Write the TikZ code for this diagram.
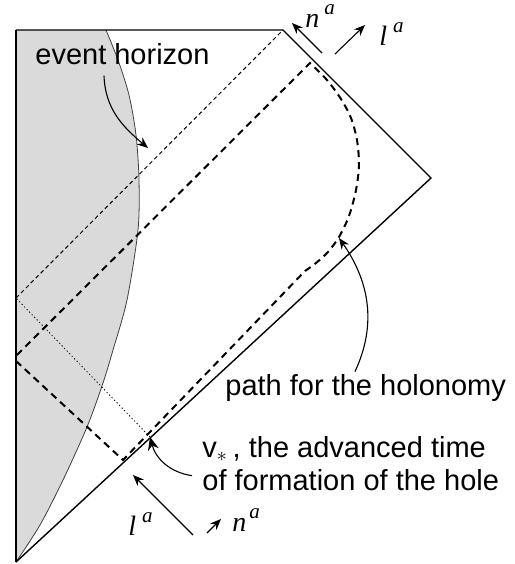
\documentclass[tikz,border=0pt]{standalone}
\usepackage{fontspec}
\setmainfont{Liberation Sans}
\newfontfamily\vecfont{Liberation Serif}
\usepackage{tikz}
\usetikzlibrary{arrows.meta, positioning}
\definecolor{trapped}{RGB}{218,218,218}
\newcommand{\nullvec}[3]{{\vecfont\itshape #1\hspace{#2}\raisebox{6.5pt}{\fontsize{10.5}{10.5}\selectfont #3}}}

\tikzset{
  txt/.style={font=\fontsize{14.5}{16.5}\selectfont, inner sep=0pt, anchor=base west},
  vec/.style={font=\fontsize{14}{14}\selectfont, inner sep=0pt, anchor=base west},
  pointer/.style={-{Stealth[length=5.5pt,width=4.5pt]}, line width=0.55pt},
  holonomy/.style={line width=1pt, dash pattern=on 3.5pt off 2.5pt},
  horizon/.style={line width=0.5pt, dash pattern=on 2pt off 1.5pt},
}

\begin{document}
\begin{tikzpicture}[x=0.5pt, y=-0.5pt]
  \useasboundingbox (0,0) rectangle (515,564);
  % corners of the diagram
  \coordinate (bottom) at (16,562);
  \coordinate (topleft) at (16,30);
  \coordinate (topright) at (283,30);
  \coordinate (spatial) at (431,178);
  \coordinate (rzero) at (16,298);
  \coordinate (vstar) at (150,437);
  \coordinate (holtip) at (339,238);
  \coordinate (ehtip) at (148,148);

  % trapped region
  \fill[trapped] (topleft) -- plot[smooth] coordinates {(106,30) (118,60) (129,95) (136,135) (139,180) (138,230) (127,300) (113,350) (103,383) (87,427) (63,480) (40,525) (16,562)} -- cycle;
  \draw[line width=0.4pt, black!75] plot[smooth] coordinates {(106,30) (118,60) (129,95) (136,135) (139,180) (138,230) (127,300) (113,350) (103,383) (87,427) (63,480) (40,525) (16,562)};

  % event horizon
  \draw[horizon] (rzero) -- (topright);
  \draw[line width=0.4pt, dash pattern=on 0.6pt off 1.2pt] (vstar) -- (rzero);

  % path for the holonomy
  \draw[holonomy] (16,361) -- (123,460) -- plot[smooth] coordinates {(305,271) (316,263) (328,252) (339,237) (349,216) (356,190) (359,165) (357,140) (351,118) (341,99) (327,80) (310,63)} -- (16,356);

  % boundary
  \draw[line width=0.7pt] (topleft) -- (topright) -- (spatial) -- (bottom);
  \draw[line width=1pt] (topleft) -- (bottom);

  % labels
  \node[txt] (ehlabel) at (35,64) {event horizon};
  \node[txt] (pathlabel) at (225,395) {path for the holonomy};
  \node[txt] (vlabel) at (202,457) {v$_{\mathbf{\ast}}$\,, the advanced time};
  \node[txt] (vlabel2) at (202,490) {of formation of the hole};

  \draw[pointer] ([xshift=34.5pt,yshift=-5.5pt]ehlabel.south west) to[out=-88, in=140] (ehtip);
  \draw[pointer] ([xshift=65pt,yshift=1pt]pathlabel.north west) to[out=65, in=-55] (holtip);
  \draw[pointer, -{Stealth[length=6.5pt,width=5.5pt]}] ([xshift=-5pt,yshift=2pt]vlabel2.west) to[out=172, in=-75] (vstar);

  % null vectors at the top
  \coordinate (ntail) at (322,53);
  \coordinate (nhead) at (292,23);
  \coordinate (ltail) at (335,54);
  \coordinate (lhead) at (365,25);
  \draw[pointer] (ntail) -- (nhead);
  \draw[pointer] (ltail) -- (lhead);
  \node[vec] (ntop) at (305,27) {\nullvec{n}{2.5pt}{a}};
  \node[vec] (ltop) at (379,45) {\nullvec{l}{3pt}{a}};

  % null vectors at the bottom
  \coordinate (lbtail) at (193,535);
  \coordinate (lbhead) at (133,475);
  \coordinate (nbtail) at (207,533);
  \coordinate (nbhead) at (221,519);
  \draw[pointer] (lbtail) -- (lbhead);
  \draw[pointer] (nbtail) -- (nbhead);
  \node[vec] (lbottom) at (128,535) {\nullvec{l}{3pt}{a}};
  \node[vec] (nbottom) at (232,531) {\nullvec{n}{1.5pt}{a}};
\end{tikzpicture}
\end{document}
